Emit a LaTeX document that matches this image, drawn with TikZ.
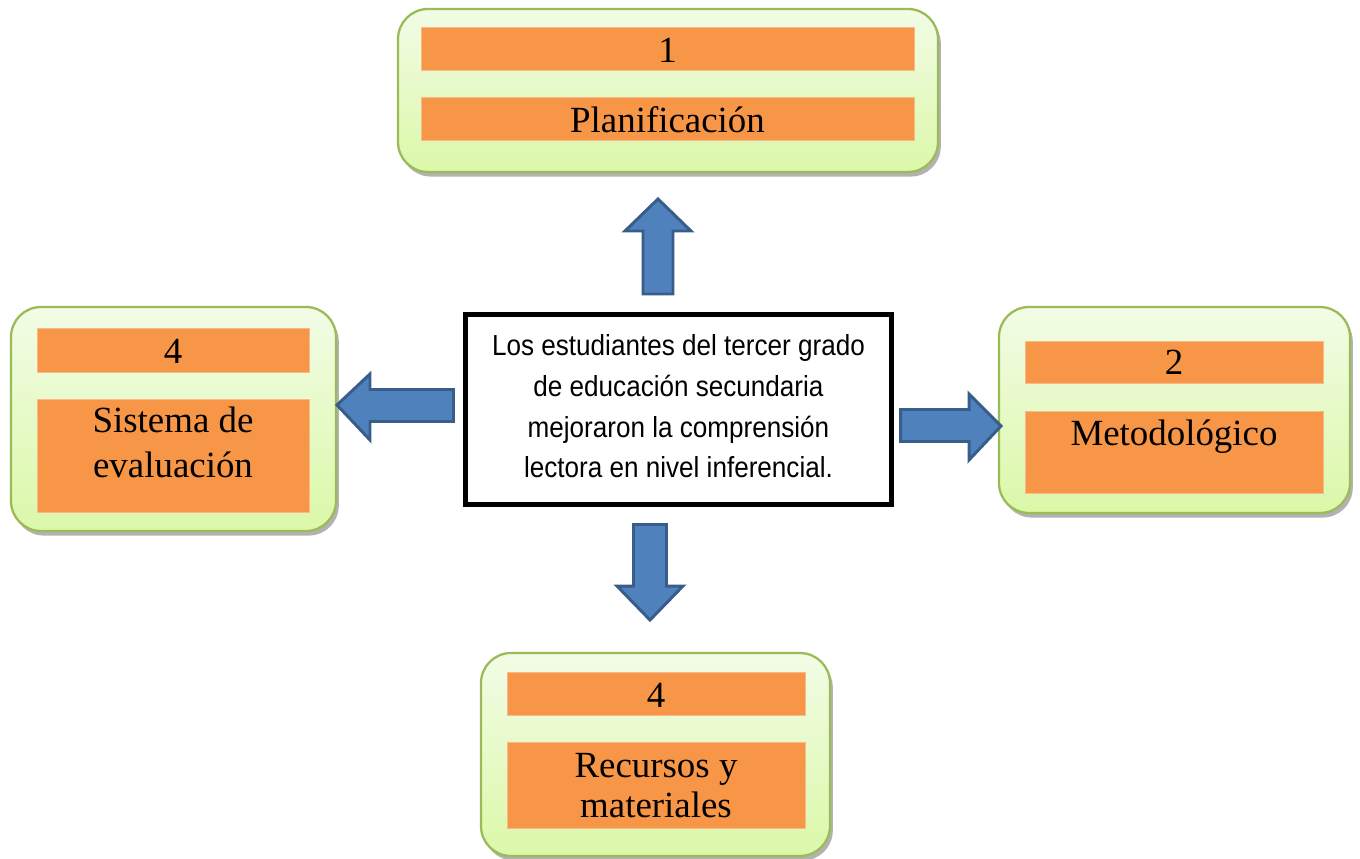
\documentclass[tikz,border=0pt]{standalone}
\usepackage{fontspec}
\setmainfont{Liberation Serif}
\newfontfamily\narrowsans[FakeStretch=0.9]{Liberation Sans}
\usetikzlibrary{shadows,fit}
\definecolor{gborder}{HTML}{9BBB59}
\definecolor{gtop}{HTML}{F2FCE6}
\definecolor{gbot}{HTML}{DBF8A8}
\definecolor{orng}{HTML}{F79646}
\definecolor{obord}{HTML}{F9B98A}
\definecolor{afill}{HTML}{4F81BD}
\definecolor{aline}{HTML}{385D8A}
\begin{document}
\begin{tikzpicture}[x=0.02cm,y=-0.02cm,
  gbox/.style={draw=gborder, line width=1.3pt, rounded corners=0.6cm,
    top color=gtop, bottom color=gbot, inner sep=0pt,
    drop shadow={shadow xshift=1.6pt, shadow yshift=-2.6pt, opacity=0.3, fill=black}},
  obar/.style={fill=orng, draw=obord, line width=0.5pt, inner sep=0pt},
  stxt/.style={anchor=base, inner sep=0pt, text=black, font=\fontsize{21}{25}\selectfont},
  ctxt/.style={anchor=base, inner sep=0pt, text=black, font=\narrowsans\fontsize{16.5}{20}\selectfont},
  barrow/.style={fill=afill, draw=aline, line width=1.7pt, line join=miter}
]
\useasboundingbox (0,0) rectangle (1360,859);

% top box
\node[gbox, fit={(398,9)(938,172)}] (topbox) {};
\node[obar, fit={(421,27)(914,70)}] (topnum) {};
\node[obar, fit={(421,97)(914,140)}] (toplab) {};
\node[stxt] (topnumt) at (667.5,62) {1};
\node[stxt] (toplabt) at (667.5,132) {Planificación};

% left box
\node[gbox, fit={(11,307)(336,531)}] (leftbox) {};
\node[obar, fit={(37,328)(309,372)}] (leftnum) {};
\node[obar, fit={(37,399)(309,512)}] (leftlab) {};
\node[stxt] (leftnumt) at (173,363) {4};
\node[stxt] (leftlabta) at (173,432) {Sistema de};
\node[stxt] (leftlabtb) at (173,477) {evaluación};

% right box
\node[gbox, fit={(999,307)(1350,513)}] (rightbox) {};
\node[obar, fit={(1025,341)(1323,383)}] (rightnum) {};
\node[obar, fit={(1025,411)(1323,493)}] (rightlab) {};
\node[stxt] (rightnumt) at (1174,374) {2};
\node[stxt] (rightlabt) at (1174,445) {Metodológico};

% bottom box
\node[gbox, fit={(481,653)(830,856)}] (botbox) {};
\node[obar, fit={(507,672)(805,715)}] (botnum) {};
\node[obar, fit={(507,742)(805,828)}] (botlab) {};
\node[stxt] (botnumt) at (656,707) {4};
\node[stxt] (botlabta) at (656,777) {Recursos y};
\node[stxt] (botlabtb) at (656,817) {materiales};

% centre box
\node[draw=black, fill=white, line width=2.8pt, inner sep=0pt, fit={(465.5,314.5)(891.5,504.5)}] (centre) {};
\node[ctxt] (c1) at (678.5,355) {Los estudiantes del tercer grado};
\node[ctxt] (c2) at (678.5,396) {de educación secundaria};
\node[ctxt] (c3) at (678.5,437) {mejoraron la comprensión};
\node[ctxt] (c4) at (678.5,477) {lectora en nivel inferencial.};

% block arrows
\draw[barrow] (658,199) -- (691,231) -- (673,231) -- (673,294) -- (643,294) -- (643,231) -- (625,231) -- cycle;
\draw[barrow] (337,405) -- (370,374) -- (370,389.5) -- (453.5,389.5) -- (453.5,421.5) -- (370,421.5) -- (370,440) -- cycle;
\draw[barrow] (1001,426) -- (969,394) -- (969,409.5) -- (900.5,409.5) -- (900.5,441.5) -- (969,441.5) -- (969,460) -- cycle;
\draw[barrow] (650,620) -- (617,586) -- (633.5,586) -- (633.5,524.5) -- (666.5,524.5) -- (666.5,586) -- (683,586) -- cycle;
\end{tikzpicture}
\end{document}
